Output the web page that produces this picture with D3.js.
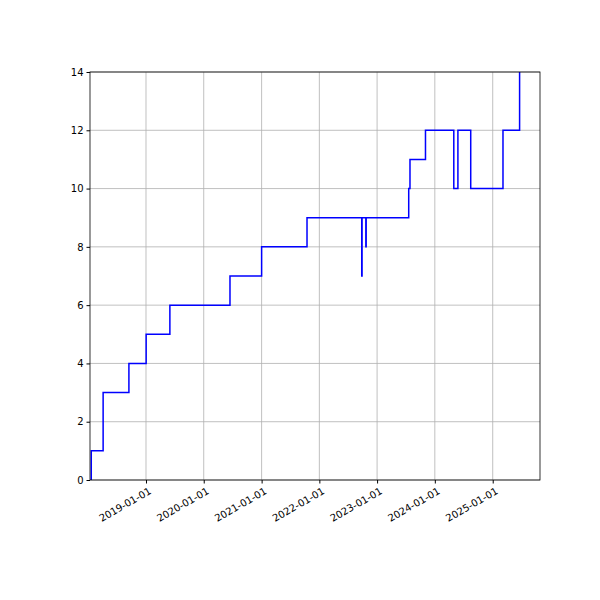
<!DOCTYPE html>
<html>
<head>
<meta charset="utf-8">
<script src="https://cdn.jsdelivr.net/npm/d3@7"></script>
<style>
  body { margin: 0; background: #fff; }
  text { font-family: "DejaVu Sans", sans-serif; font-size: 10px; }
</style>
</head>
<body>
<svg id="chart" width="600" height="600"></svg>
<script>
// step points
const dates = [
  "2018-01-19", "2018-01-20", "2018-04-05", "2018-09-15", "2019-01-02",
  "2019-05-20", "2019-06-01", "2020-06-15", "2021-01-01", "2021-10-15",
  "2022-09-26", "2022-09-28", "2022-10-22", "2022-10-24", "2023-07-20",
  "2023-07-28", "2023-11-03", "2024-04-30", "2024-05-26", "2024-08-15",
  "2025-03-07", "2025-06-20", "2025-06-21"
];
const values = [
  0, 1, 3, 4, 5,
  5, 6, 7, 8, 9,
  7, 9, 8, 9, 10,
  11, 12, 10, 12, 10,
  12, 14, 14
];
const yTicks = [0, 2, 4, 6, 8, 10, 12, 14];
const xTickYears = [2019, 2020, 2021, 2022, 2023, 2024, 2025];

const margin = { top: 72, right: 60, bottom: 120, left: 90 };
const width = 600, height = 600;
const parse = d3.utcParse("%Y-%m-%d");
const data = dates.map((d, i) => ({ date: parse(d), value: values[i] }));

const svg = d3.select("#chart");
const x = d3.scaleUtc()
  .domain([parse("2018-01-12"), parse("2025-10-27")])
  .range([margin.left, width - margin.right]);
const y = d3.scaleLinear()
  .domain([0, 14])
  .range([height - margin.bottom, margin.top]);

const xTicks = xTickYears.map(yr => new Date(Date.UTC(yr, 0, 1)));

// grid
svg.append("g")
  .selectAll("line")
  .data(xTicks)
  .join("line")
  .attr("x1", d => x(d)).attr("x2", d => x(d))
  .attr("y1", margin.top).attr("y2", height - margin.bottom)
  .attr("stroke", "#b0b0b0").attr("stroke-width", 0.8);
svg.append("g")
  .selectAll("line")
  .data(yTicks)
  .join("line")
  .attr("x1", margin.left).attr("x2", width - margin.right)
  .attr("y1", d => y(d)).attr("y2", d => y(d))
  .attr("stroke", "#b0b0b0").attr("stroke-width", 0.8);

// clip and line
svg.append("clipPath").attr("id", "clip")
  .append("rect")
  .attr("x", margin.left).attr("y", margin.top)
  .attr("width", width - margin.left - margin.right)
  .attr("height", height - margin.top - margin.bottom);

const line = d3.line()
  .x(d => x(d.date))
  .y(d => y(d.value))
  .curve(d3.curveStepAfter);

svg.append("path")
  .datum(data)
  .attr("clip-path", "url(#clip)")
  .attr("fill", "none")
  .attr("stroke", "blue")
  .attr("stroke-width", 1.5)
  .attr("d", line);

// axes
const fmt = d3.utcFormat("%Y-%m-%d");
const xAxis = svg.append("g")
  .attr("transform", `translate(0,${height - margin.bottom})`)
  .call(d3.axisBottom(x).tickValues(xTicks).tickFormat(fmt).tickSizeOuter(0).tickSize(3.5));
xAxis.selectAll("text")
  .attr("fill", "#000")
  .attr("text-anchor", "end")
  .attr("x", 0)
  .attr("y", 0)
  .attr("dy", "0.7em")
  .attr("transform", "translate(2,7) rotate(-30)");
xAxis.select(".domain").remove();

const yAxis = svg.append("g")
  .attr("transform", `translate(${margin.left},0)`)
  .call(d3.axisLeft(y).tickValues(yTicks).tickSizeOuter(0).tickSize(3.5));
yAxis.selectAll("text").attr("fill", "#000");
yAxis.select(".domain").remove();

// frame
svg.append("rect")
  .attr("x", margin.left).attr("y", margin.top)
  .attr("width", width - margin.left - margin.right)
  .attr("height", height - margin.top - margin.bottom)
  .attr("fill", "none").attr("stroke", "#000").attr("stroke-width", 0.8);
</script>
</body>
</html>
